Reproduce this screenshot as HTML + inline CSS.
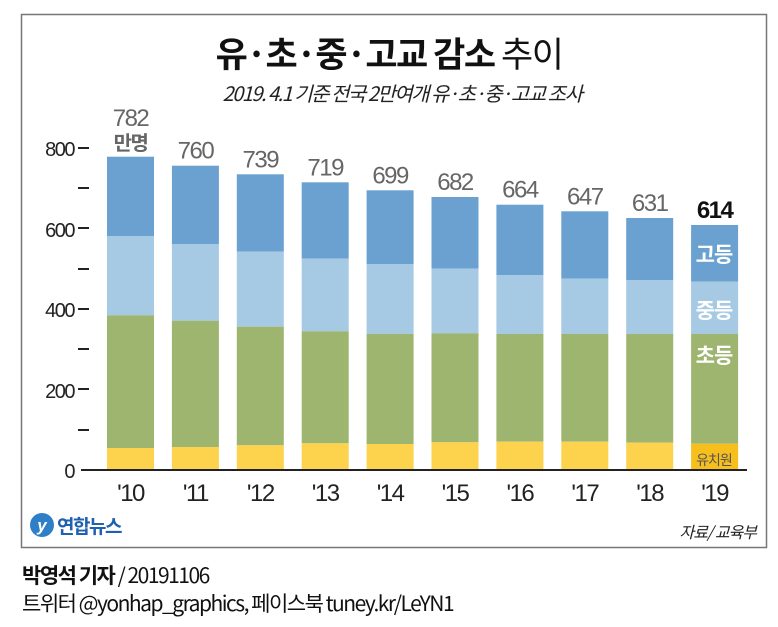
<!DOCTYPE html>
<html><head><meta charset="utf-8"><style>
html,body{margin:0;padding:0;background:#fff;}
svg{display:block;font-family:"Liberation Sans","Noto Sans CJK KR",sans-serif;}
</style></head><body>
<svg width="778" height="627" viewBox="0 0 778 627" xmlns="http://www.w3.org/2000/svg">
<rect x="21.5" y="14.5" width="745" height="533" fill="none" stroke="#777" stroke-width="1.5"/>
<text x="389" y="67" text-anchor="middle" font-size="35" font-weight="bold" fill="#111" font-family="Noto Sans CJK KR, sans-serif" letter-spacing="-1.5">유·초·중·고교 감소 <tspan font-weight="normal">추이</tspan></text>
<text x="402" y="101" text-anchor="middle" font-size="20" font-style="italic" fill="#222" font-family="Noto Sans CJK KR, sans-serif" letter-spacing="-1.5">2019. 4.1 기준 전국 2만여개 유·초·중·고교 조사</text>
<g fill="#222" font-size="20" text-anchor="end" letter-spacing="-1.5">
<text x="74" y="156">800</text><text x="74" y="237">600</text><text x="74" y="317">400</text><text x="74" y="398">200</text><text x="74" y="478">0</text>
</g>
<g stroke="#222" stroke-width="2">
<line x1="78" y1="148" x2="89" y2="148"/><line x1="78" y1="188" x2="89" y2="188"/><line x1="78" y1="228" x2="89" y2="228"/><line x1="78" y1="269" x2="89" y2="269"/><line x1="78" y1="309" x2="89" y2="309"/><line x1="78" y1="349" x2="89" y2="349"/><line x1="78" y1="389" x2="89" y2="389"/><line x1="78" y1="430" x2="89" y2="430"/>
</g>
<g id="bars"></g>
<line x1="81" y1="470" x2="747" y2="470" stroke="#222" stroke-width="2"/>
<g fill="#fff" font-size="21" font-weight="bold" text-anchor="middle" font-family="Noto Sans CJK KR, sans-serif" letter-spacing="-1">
<text x="714" y="262">고등</text><text x="714" y="318">중등</text><text x="714" y="363">초등</text>
</g>
<text x="714" y="465" text-anchor="middle" font-size="14" fill="#555" font-family="Noto Sans CJK KR, sans-serif" letter-spacing="-1">유치원</text>
<g fill="#222" font-size="24" text-anchor="middle" letter-spacing="-1.5" id="xl"></g>
<circle cx="42" cy="525" r="12" fill="#2f7fc8"/>
<text x="42" y="531" text-anchor="middle" font-size="17" font-style="italic" font-weight="bold" fill="#fff">y</text>
<text x="57" y="533" font-size="19" font-weight="bold" fill="#2060b0" font-family="Noto Sans CJK KR, sans-serif" letter-spacing="-1.5">연합뉴스</text>
<text x="756" y="538" text-anchor="end" font-size="16" font-style="italic" fill="#222" font-family="Noto Sans CJK KR, sans-serif" letter-spacing="-1">자료/ 교육부</text>
<text x="22" y="583" font-size="21" fill="#111" font-family="Noto Sans CJK KR, sans-serif" letter-spacing="-1.5"><tspan font-weight="bold">박영석 기자</tspan> / 20191106</text>
<text x="22" y="611" font-size="21" fill="#111" font-family="Noto Sans CJK KR, sans-serif" letter-spacing="-1.5">트위터 @yonhap_graphics, 페이스북 tuney.kr/LeYN1</text>
<script>
var d=[[156.7,236,315.3,448,"782"],[165.7,244,320.7,447,"760"],[174.3,251.7,326.7,445.3,"739"],[182.3,258.7,331.3,443.3,"719"],[190.3,264.3,334,444,"699"],[197,268.7,333.3,442.3,"682"],[204.7,275,334,441.7,"664"],[211.3,278.7,334,441.7,"647"],[218,280,334,442.7,"631"],[225,281.7,334,443.7,"614"]];
var ns="http://www.w3.org/2000/svg",g=document.getElementById("bars"),xl=document.getElementById("xl"),svg=document.querySelector("svg");
function r(x,y,h,c){var e=document.createElementNS(ns,"rect");e.setAttribute("x",x);e.setAttribute("y",y);e.setAttribute("width",47);e.setAttribute("height",h);e.setAttribute("fill",c);g.appendChild(e);}
function t(p,x,y,s,f,w,txt,fam){var e=document.createElementNS(ns,"text");e.setAttribute("x",x);e.setAttribute("y",y);e.setAttribute("font-size",s);e.setAttribute("fill",f);e.setAttribute("text-anchor","middle");e.setAttribute("letter-spacing","-1.5");if(w)e.setAttribute("font-weight","bold");if(fam)e.setAttribute("font-family",fam);e.textContent=txt;p.appendChild(e);}
for(var i=0;i<10;i++){var x=107+i*64.9,v=d[i];
r(x,v[0],v[1]-v[0],"#6aa1d0");r(x,v[1],v[2]-v[1],"#a6c9e4");r(x,v[2],v[3]-v[2],"#9db56f");r(x,v[3],469-v[3],i==9?"#f7bf1e":"#fdd24c");
var cx=x+23.5;
if(i==0){t(svg,cx,126,24,"#666",0,v[4]);t(svg,cx,150,20,"#666",1,"만명","Noto Sans CJK KR, sans-serif");}
else if(i==9){t(svg,cx,v[0]-7,24,"#111",1,v[4]);}
else t(svg,cx,v[0]-7,24,"#666",0,v[4]);
t(xl,cx,501,24,"#222",0,"'"+(10+i));}
</script>
</svg>
</body></html>
